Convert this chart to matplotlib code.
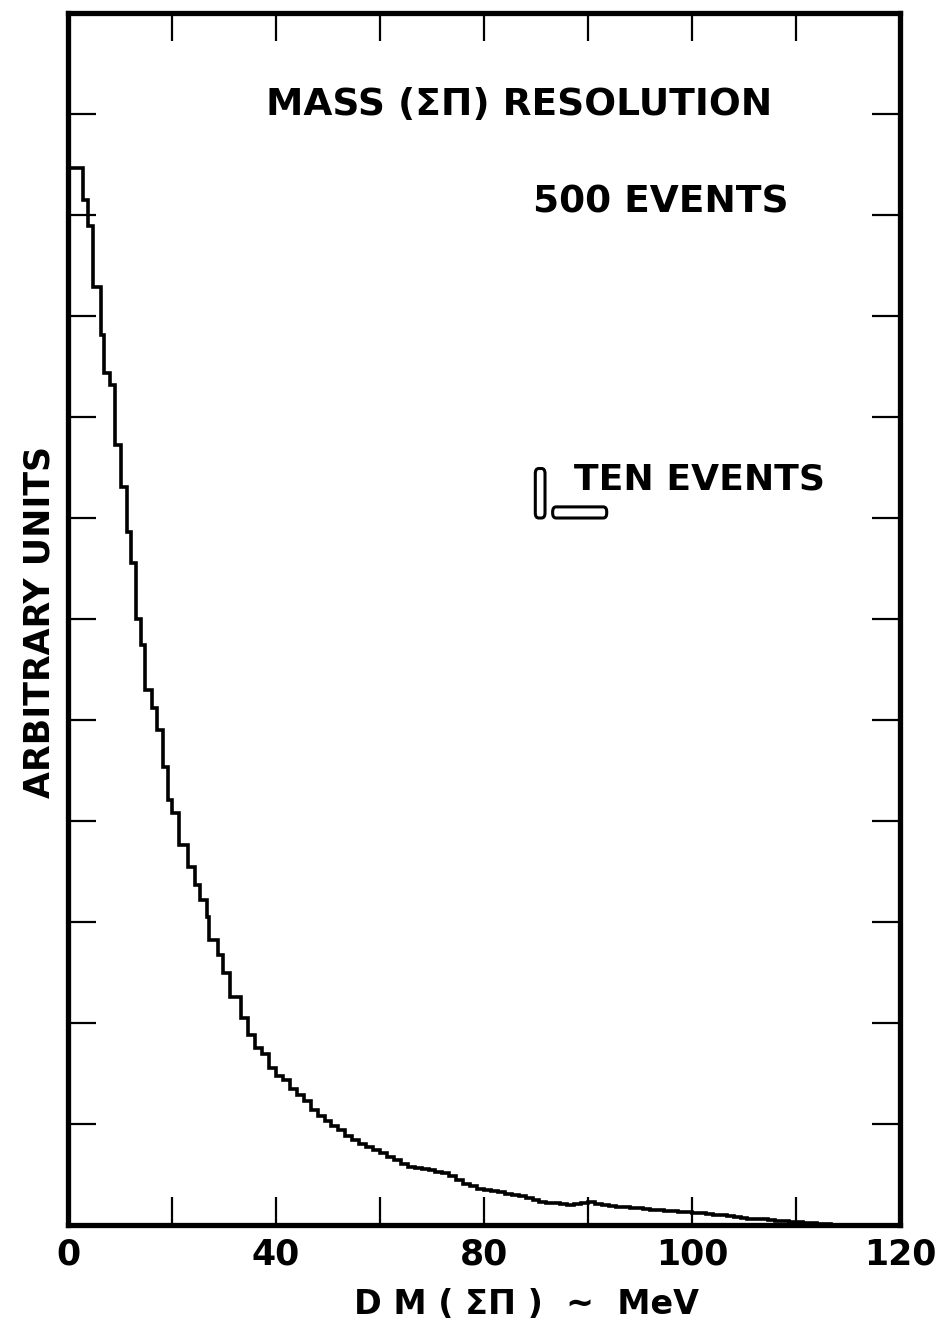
import numpy as np
import matplotlib
matplotlib.use('Agg')
import matplotlib.pyplot as plt
from matplotlib.patches import FancyBboxPatch

# histogram: step part (uneven bins) + 1 MeV tail bins
step_edges = [0, 2.2, 2.9, 3.6, 4.8, 5.2, 6.0, 6.8, 7.6, 8.5, 9.1, 9.8, 10.6, 11.1,
              12.1, 12.8, 13.7, 14.4, 15.0, 16.0, 17.3, 18.3, 19.0, 20.0, 20.4,
              21.6, 22.3, 23.3, 25.0]
step_counts = [10.47, 10.15, 9.89, 9.29, 8.81, 8.44, 8.32, 7.72, 7.31, 6.86, 6.55,
               6.00, 5.74, 5.30, 5.12, 4.90, 4.53, 4.21, 4.08, 3.76, 3.54, 3.37,
               3.22, 3.05, 2.82, 2.67, 2.50, 2.26]
tail_counts = [2.05, 1.88, 1.75, 1.69, 1.55, 1.48, 1.44, 1.35, 1.29, 1.23,
               1.14, 1.08, 1.03, 0.98, 0.94, 0.88, 0.84, 0.80, 0.77, 0.74,
               0.71, 0.67, 0.64, 0.60, 0.57, 0.56, 0.55, 0.54, 0.52, 0.51,
               0.49, 0.45, 0.41, 0.39, 0.36, 0.35, 0.34, 0.33, 0.31, 0.30,
               0.29, 0.27, 0.25, 0.23, 0.22, 0.22, 0.21, 0.20, 0.21, 0.22,
               0.23, 0.21, 0.20, 0.19, 0.18, 0.18, 0.17, 0.17, 0.16, 0.15,
               0.15, 0.14, 0.14, 0.13, 0.13, 0.12, 0.12, 0.11, 0.10, 0.10,
               0.09, 0.08, 0.07, 0.06, 0.06, 0.06, 0.05, 0.04, 0.04, 0.03,
               0.03, 0.02, 0.02, 0.01, 0.01, 0.0]
tail_edges = np.arange(26, 26 + len(tail_counts))

edges = np.concatenate([step_edges, tail_edges])
counts = np.array(step_counts + tail_counts)

# axis ticks (labels as printed on the original)
x_ticks = [0, 30, 60, 90, 120]
x_ticklabels = ['0', '40', '80', '100', '120']
x_minor = [15, 45, 75, 105]
y_ticks = np.arange(0, 13)

plt.rcParams['font.family'] = ['DejaVu Sans']
plt.rcParams['font.weight'] = 'bold'

fig = plt.figure(figsize=(9.41, 13.40), dpi=100)
ax = fig.add_axes([68 / 941, 1 - 1225 / 1340, 832 / 941, 1212 / 1340])

ax.stairs(counts, edges, baseline=None, color='black', linewidth=2.6)

ax.set_xlim(0, 120)
ax.set_ylim(0, 12)

ax.set_xticks(x_ticks)
ax.set_xticklabels(x_ticklabels, fontsize=25, fontweight='bold')
ax.set_xticks(x_minor, minor=True)
ax.set_yticks(y_ticks)
ax.set_yticklabels([])
ax.tick_params(which='both', direction='in', length=20, width=1.6,
               top=True, right=True, color='black')
ax.tick_params(axis='x', which='major', pad=9)

for side in ['left', 'right', 'top', 'bottom']:
    ax.spines[side].set_linewidth(3.8)

# annotations inside the frame
ax.text(65.0, 11.09, 'MASS (ΣΠ) RESOLUTION', fontsize=27, fontweight='bold',
        ha='center', va='center')
ax.text(85.5, 10.12, '500 EVENTS', fontsize=27, fontweight='bold',
        ha='center', va='center')
ax.text(73.0, 7.38, 'TEN EVENTS', fontsize=26, fontweight='bold',
        ha='left', va='center')

# "ten events" scale boxes
ax.add_patch(FancyBboxPatch((67.4, 7.0), 1.4, 0.49,
                            boxstyle='round,pad=0,rounding_size=0.5',
                            facecolor='white', edgecolor='black', linewidth=2.2,
                            mutation_aspect=0.1))
ax.add_patch(FancyBboxPatch((69.9, 7.0), 7.8, 0.11,
                            boxstyle='round,pad=0,rounding_size=0.5',
                            facecolor='white', edgecolor='black', linewidth=2.2,
                            mutation_aspect=0.1))

# axis titles
fig.text(527 / 941, 1 - 1305 / 1340, 'D M ( ΣΠ )  ~  MeV', fontsize=24,
         fontweight='bold', ha='center', va='center')
fig.text(40 / 941, 1 - 622 / 1340, 'ARBITRARY UNITS', fontsize=25,
         fontweight='bold', ha='center', va='center', rotation=90)

plt.savefig('out.png', dpi=100)
